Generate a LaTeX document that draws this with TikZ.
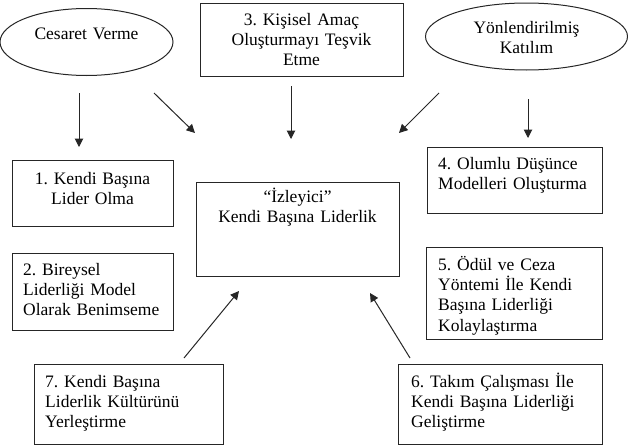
\documentclass[tikz,border=0pt]{standalone}
\usepackage{fontspec}
\setmainfont{Liberation Serif}
\usetikzlibrary{shapes.geometric,arrows.meta}
\frenchspacing
\begin{document}
\begin{tikzpicture}[x=1pt,y=-1pt,
  frame/.style={draw=black!85,line width=1pt,anchor=north west,inner sep=0pt},
  oval/.style={draw=black!85,line width=1pt,ellipse,inner sep=0pt},
  txt/.style={font=\fontsize{17.5}{20.4}\selectfont\frenchspacing,inner sep=0pt},
  ltxt/.style={txt,anchor=base west,text width=190pt,align=left},
  ctxt/.style={txt,anchor=base,align=center},
  arr/.style={draw=black!85,line width=1pt,-{Triangle[length=8.5pt,width=8.5pt]}}]
\useasboundingbox (0,0) rectangle (628,447);
% ellipses
\node[oval,minimum width=173pt,minimum height=67pt] (e1) at (86.5,42) {};
\node[oval,minimum width=202pt,minimum height=67pt] (e2) at (526.5,36.5) {};
\node[ctxt,text width=170pt] (t1) at (86.5,39) {Cesaret Verme};
\node[ctxt,text width=200pt] (t2) at (526.5,33) {Yönlendirilmiş\\Katılım};
% boxes
\node[frame,minimum width=203pt,minimum height=73pt] (b3) at (200,3) {};
\node[ctxt,text width=203pt] (t3) at (301.5,25) {3. Kişisel Amaç\\Oluşturmayı Teşvik\\Etme};
\node[frame,minimum width=161pt,minimum height=66pt] (b1) at (12,160) {};
\node[ctxt,text width=161pt] (tb1) at (92.5,184) {1. Kendi Başına\\Lider Olma};
\node[frame,minimum width=203pt,minimum height=94pt] (bc) at (196,182) {};
\node[ctxt,text width=203pt] (tc) at (297.5,202) {“İzleyici”\\Kendi Başına Liderlik};
\node[frame,minimum width=175pt,minimum height=66pt] (b4) at (427,147) {};
\node[ltxt] (tb4) at (438,169) {4. Olumlu Düşünce\\Modelleri Oluşturma};
\node[frame,minimum width=161pt,minimum height=77pt] (b2) at (12,253) {};
\node[ltxt] (tb2) at (23,275) {2. Bireysel\\Liderliği Model\\Olarak Benimseme};
\node[frame,minimum width=176pt,minimum height=92pt] (b5) at (426,247) {};
\node[ltxt] (tb5) at (438,270) {5. Ödül ve Ceza\\Yöntemi İle Kendi\\Başına Liderliği\\Kolaylaştırma};
\node[frame,minimum width=189pt,minimum height=80pt] (b7) at (34,364) {};
\node[ltxt] (tb7) at (45,387) {7. Kendi Başına\\Liderlik Kültürünü\\Yerleştirme};
\node[frame,minimum width=204pt,minimum height=80pt] (b6) at (398,364) {};
\node[ltxt,text width=200pt] (tb6) at (411,387) {6. Takım Çalışması İle\\Kendi Başına Liderliği\\Geliştirme};
% arrow end points
\coordinate (a1s) at (79,93);   \coordinate (a1e) at (79,147);
\coordinate (a2s) at (154,93);  \coordinate (a2e) at (195,133);
\coordinate (a3s) at (291,86);  \coordinate (a3e) at (291,139);
\coordinate (a4s) at (439,93);  \coordinate (a4e) at (399,133);
\coordinate (a5s) at (528,99);  \coordinate (a5e) at (528,138);
\coordinate (a6s) at (184,358); \coordinate (a6e) at (239,291);
\coordinate (a7s) at (410,358); \coordinate (a7e) at (370,293);
\draw[arr] (a1s) -- (a1e);
\draw[arr] (a2s) -- (a2e);
\draw[arr] (a3s) -- (a3e);
\draw[arr] (a4s) -- (a4e);
\draw[arr] (a5s) -- (a5e);
\draw[arr] (a6s) -- (a6e);
\draw[arr] (a7s) -- (a7e);
\end{tikzpicture}
\end{document}
